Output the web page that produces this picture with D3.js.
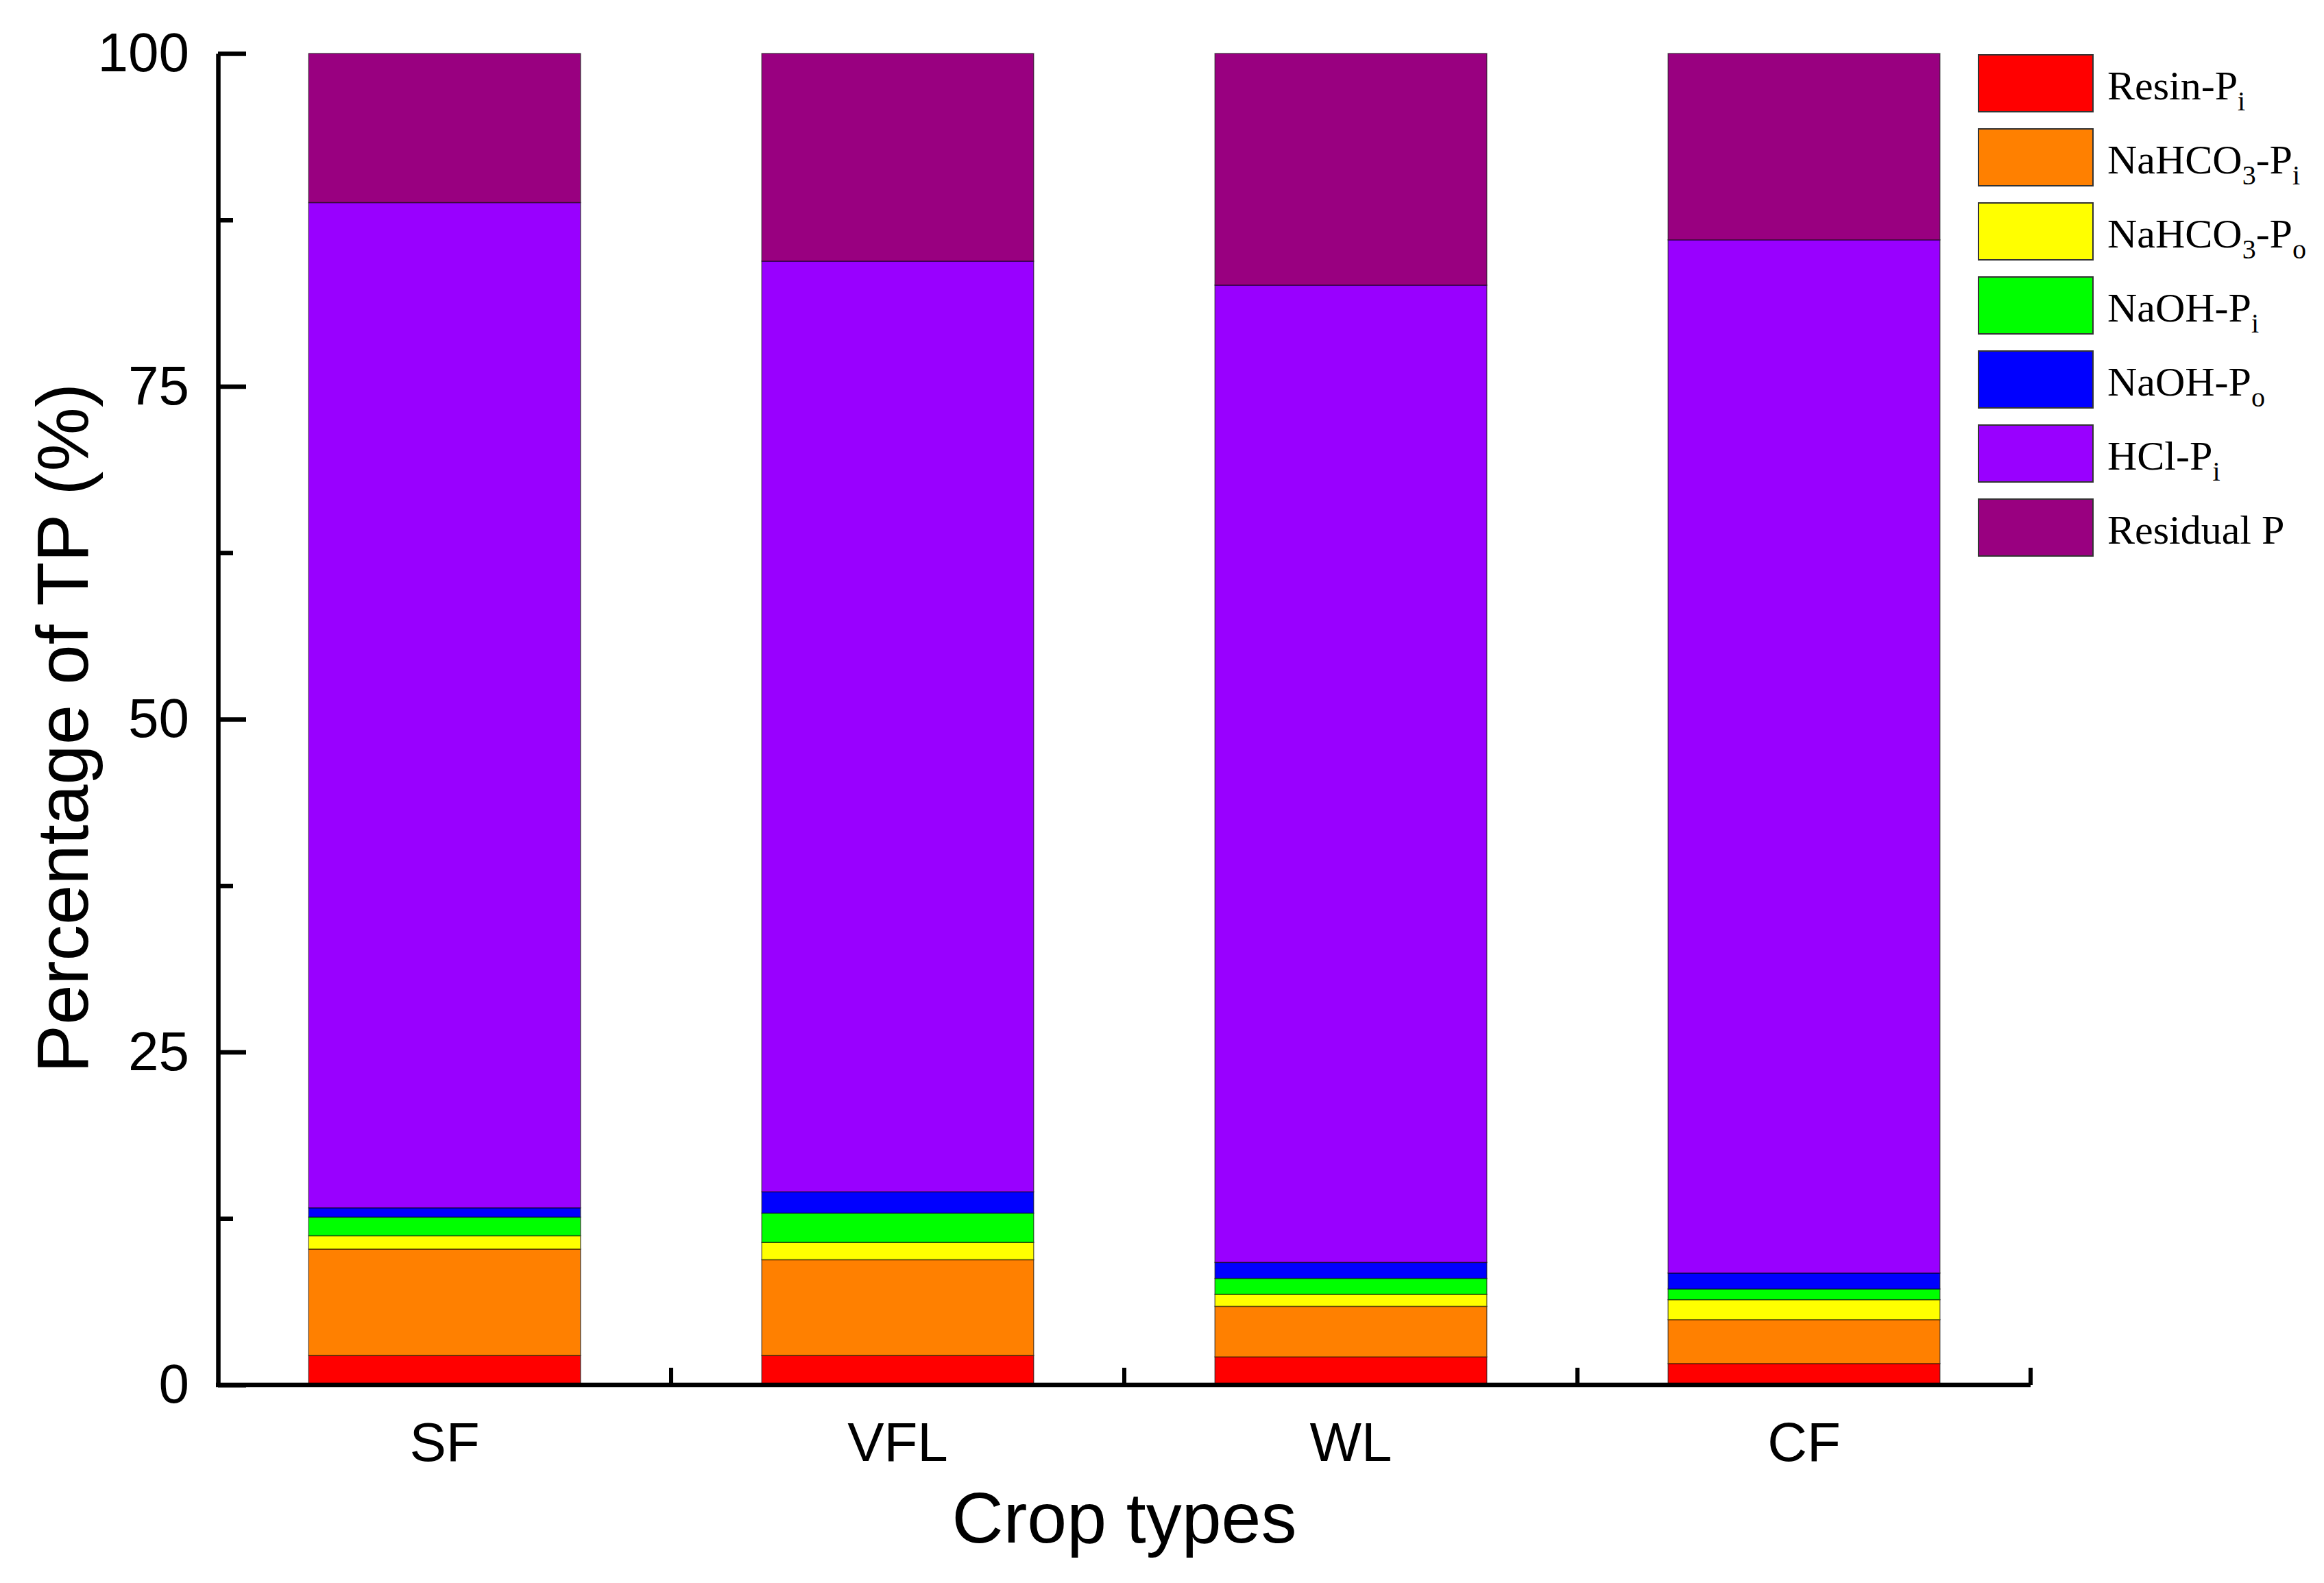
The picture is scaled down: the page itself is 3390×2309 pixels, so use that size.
<!DOCTYPE html>
<html>
<head>
<meta charset="utf-8">
<script src="https://cdn.jsdelivr.net/npm/d3@7"></script>
<style>
  body { margin: 0; background: #fff; }
</style>
</head>
<body>
<div id="chart"></div>
<script>
// data (percent of TP)
var categories = ["SF", "VFL", "WL", "CF"];
var resinPi   = [2.2, 2.2, 2.1, 1.6];
var nahco3Pi  = [8.0, 7.2, 3.8, 3.3];
var nahco3Po  = [1.0, 1.3, 0.9, 1.5];
var naohPi    = [1.4, 2.2, 1.2, 0.8];
var naohPo    = [0.7, 1.6, 1.2, 1.2];
var hclPi     = [75.5, 69.9, 73.4, 77.6];
var residualP = [11.2, 15.6, 17.4, 14.0];

var seriesKeys = ["resinPi", "nahco3Pi", "nahco3Po", "naohPi", "naohPo", "hclPi", "residualP"];
var seriesColors = ["#ff0000", "#ff8000", "#ffff00", "#00ff00", "#0000ff", "#9900ff", "#990080"];
// legend labels: [text, subscript?]
var legendLabels = [
    [["Resin-P", 0], ["i", 1]],
    [["NaHCO", 0], ["3", 1], ["-P", 0], ["i", 1]],
    [["NaHCO", 0], ["3", 1], ["-P", 0], ["o", 1]],
    [["NaOH-P", 0], ["i", 1]],
    [["NaOH-P", 0], ["o", 1]],
    [["HCl-P", 0], ["i", 1]],
    [["Residual P", 0]]
];
var yMajor = [0, 25, 50, 75, 100];
var yMinor = [12.5, 37.5, 62.5, 87.5];

drawStackedBars();
function drawStackedBars(){
    var W = 3390, H = 2309;
    var left = 318, right = 2962, top = 78, bottom = 2020;

    var svg = d3.select("#chart")
        .append("svg")
        .attr("width", W)
        .attr("height", H);

    var rows = categories.map(function(c, i) {
        return {
            cat: c,
            resinPi: resinPi[i], nahco3Pi: nahco3Pi[i], nahco3Po: nahco3Po[i],
            naohPi: naohPi[i], naohPo: naohPo[i], hclPi: hclPi[i], residualP: residualP[i]
        };
    });
    var stacked = d3.stack().keys(seriesKeys)(rows);

    var x = d3.scaleBand()
        .domain(categories)
        .range([left, right])
        .paddingInner(0.4)
        .paddingOuter(0.2);

    var y = d3.scaleLinear()
        .domain([0, 100])
        .range([bottom, top]);

    // bars
    svg.append("g")
        .selectAll("g")
        .data(stacked)
        .enter()
        .append("g")
        .attr("fill", function(d, i) { return seriesColors[i]; })
        .selectAll("rect")
        .data(function(d) { return d; })
        .enter()
        .append("rect")
        .attr("x", function(d) { return x(d.data.cat); })
        .attr("y", function(d) { return y(d[1]); })
        .attr("width", x.bandwidth())
        .attr("height", function(d) { return y(d[0]) - y(d[1]); })
        .attr("stroke", "#000")
        .attr("stroke-opacity", 0.55)
        .attr("stroke-width", 1.5);

    // Y axis, ticks pointing inward
    var yAxis = svg.append("g")
        .attr("transform", "translate(" + left + ",0)")
        .call(d3.axisLeft(y).tickValues(yMajor).tickSizeInner(-41).tickSizeOuter(0).tickPadding(42));
    yAxis.selectAll("text")
        .attr("font-family", "Liberation Sans, Arial, sans-serif")
        .attr("font-size", 80)
        .attr("fill", "#000");

    var yMinorAxis = svg.append("g")
        .attr("transform", "translate(" + left + ",0)")
        .call(d3.axisLeft(y).tickValues(yMinor).tickSizeInner(-22).tickSizeOuter(0).tickFormat(""));
    yMinorAxis.select(".domain").remove();

    // X axis, labels only; boundary ticks drawn below
    var xAxis = svg.append("g")
        .attr("transform", "translate(0," + bottom + ")")
        .call(d3.axisBottom(x).tickSize(0).tickPadding(54));
    xAxis.selectAll("text")
        .attr("font-family", "Liberation Sans, Arial, sans-serif")
        .attr("font-size", 80)
        .attr("fill", "#000");
    xAxis.select(".domain").attr("d", "M" + (left - 3) + ",0H" + right);

    var bounds = categories.map(function(c) {
        return x(c) + x.bandwidth() + x.step() * x.paddingInner() / 2;
    });
    bounds[bounds.length - 1] = right;
    svg.append("g")
        .selectAll("line")
        .data(bounds)
        .enter()
        .append("line")
        .attr("x1", function(d) { return d; })
        .attr("x2", function(d) { return d; })
        .attr("y1", bottom)
        .attr("y2", bottom - 25)
        .attr("stroke", "#000")
        .attr("stroke-width", 6);

    svg.selectAll(".domain, .tick line")
        .attr("stroke", "#000")
        .attr("stroke-width", 6.5);

    // axis titles
    svg.append("text")
        .attr("x", (left + right) / 2)
        .attr("y", 2250)
        .attr("text-anchor", "middle")
        .attr("font-family", "Liberation Sans, Arial, sans-serif")
        .attr("font-size", 104)
        .text("Crop types");

    svg.append("text")
        .attr("transform", "translate(128," + 1062 + ")rotate(-90)")
        .attr("text-anchor", "middle")
        .attr("font-family", "Liberation Sans, Arial, sans-serif")
        .attr("font-size", 105)
        .text("Percentage of TP (%)");

    // legend
    var legend = svg.append("g")
        .selectAll("g")
        .data(legendLabels)
        .enter()
        .append("g")
        .attr("transform", function(d, i) { return "translate(2886," + (80 + i * 108) + ")"; });

    legend.append("rect")
        .attr("width", 167)
        .attr("height", 83)
        .attr("fill", function(d, i) { return seriesColors[i]; })
        .attr("stroke", "#333")
        .attr("stroke-width", 2);

    var lt = legend.append("text")
        .attr("x", 188)
        .attr("y", 65)
        .attr("font-family", "Liberation Serif, Times New Roman, serif")
        .attr("font-size", 60)
        .attr("fill", "#000");

    lt.each(function(parts) {
        var t = d3.select(this);
        var sub = false;
        parts.forEach(function(p) {
            var ts = t.append("tspan").text(p[0]);
            if (p[1] && !sub) { ts.attr("font-size", 40).attr("dy", 16); sub = true; }
            else if (!p[1] && sub) { ts.attr("dy", -16); sub = false; }
        });
    });
}
</script>
</body>
</html>
